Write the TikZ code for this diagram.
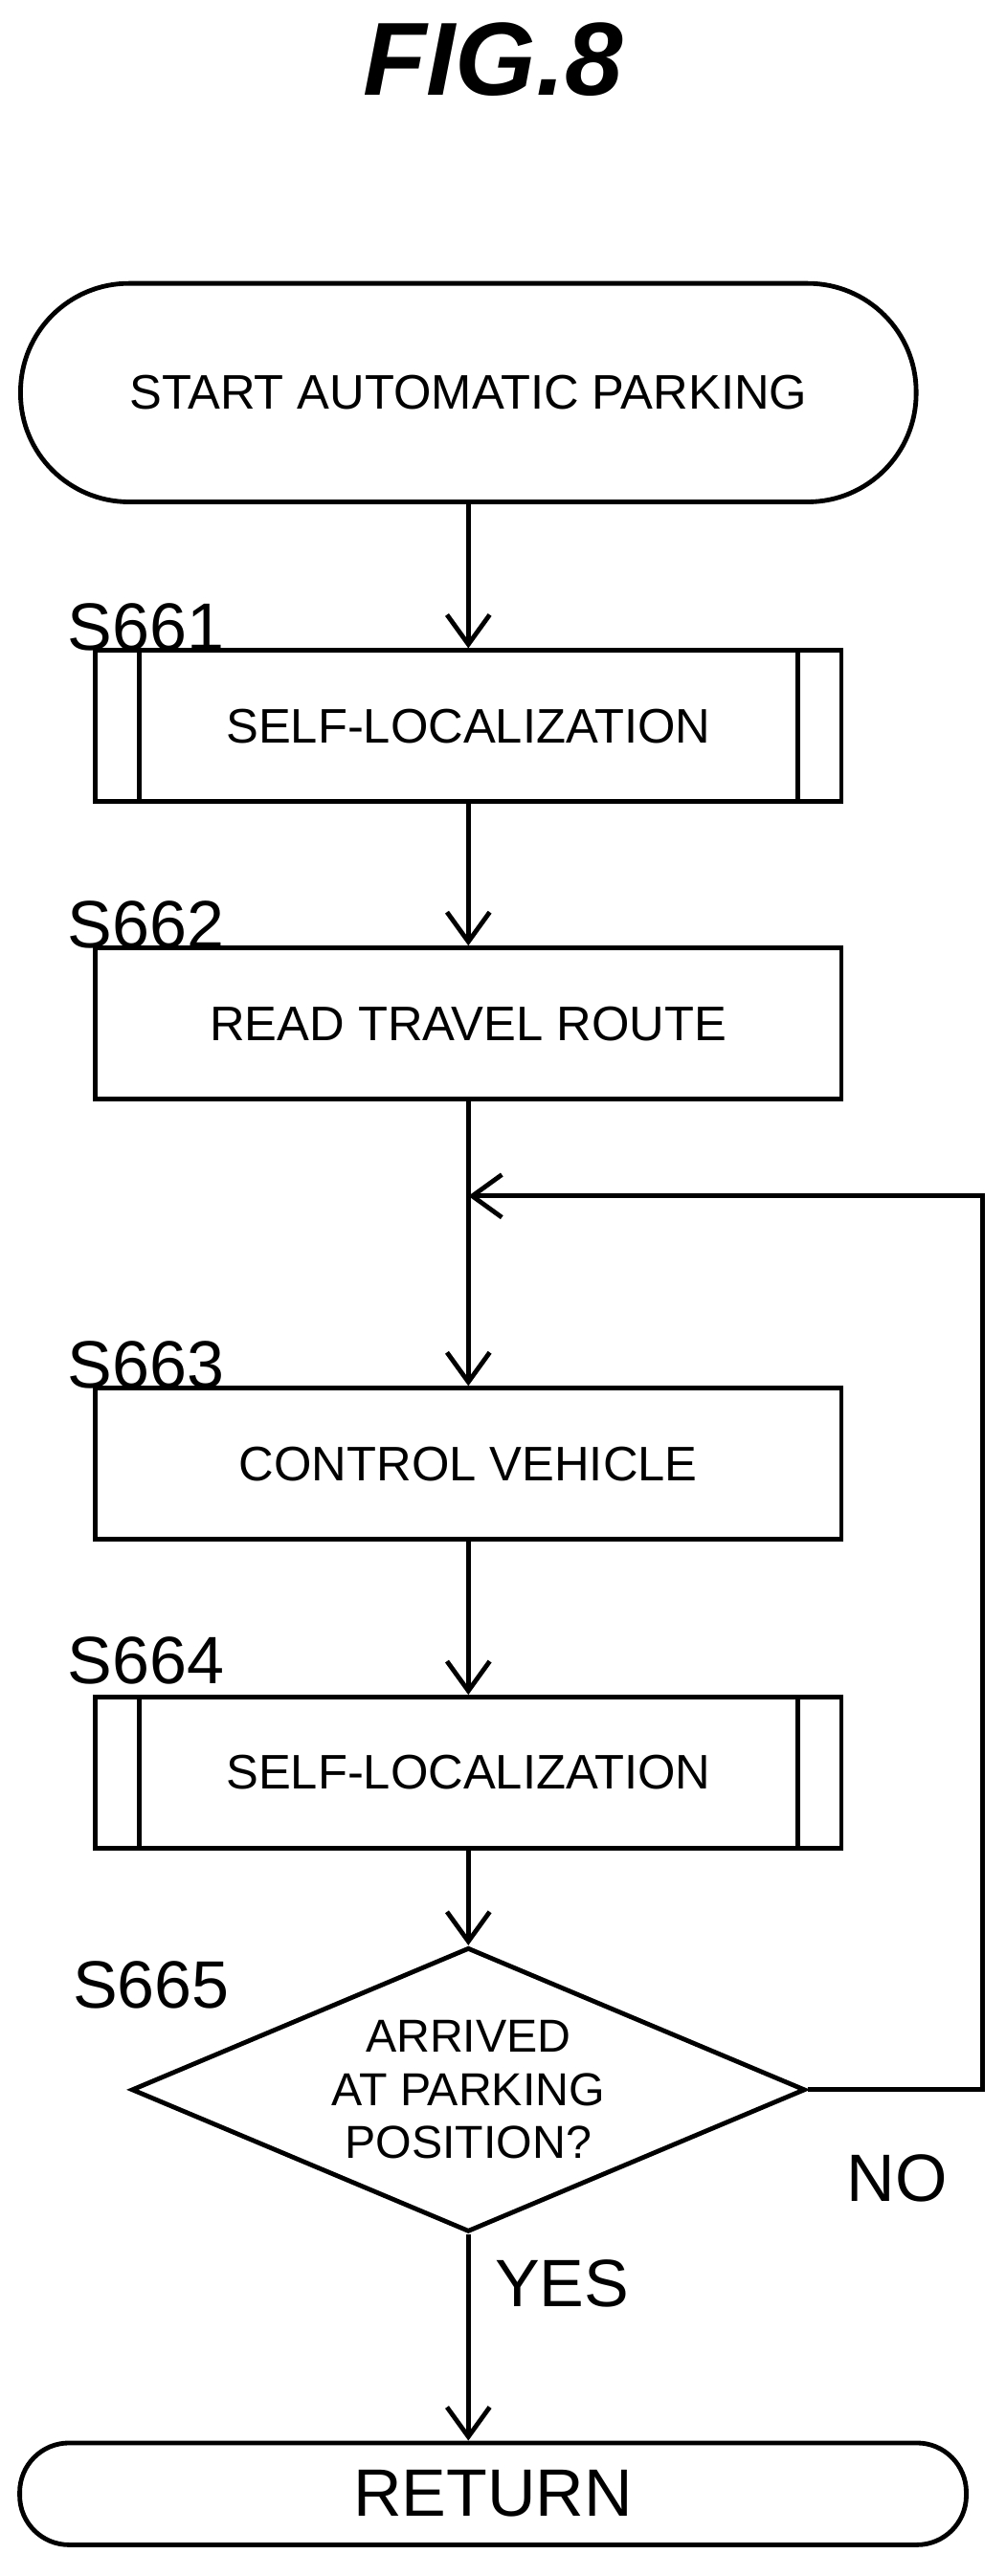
\documentclass[tikz,border=0pt]{standalone}
\usepackage{fontspec}
\setmainfont{Liberation Sans}
\usetikzlibrary{shapes.geometric, arrows.meta, positioning}
\tikzset{line/.style={line width=4pt}}
\tikzset{flow/.style={line, -{Straight Barb[length=0.9cm, width=1.3cm, line width=4pt]}}}
\tikzset{term/.style={line, draw, rounded corners=3.3cm, minimum width=27.25cm, minimum height=6.65cm, font=\fontsize{42}{44}\selectfont}}
\tikzset{pstep/.style={line, draw, minimum width=22.7cm, minimum height=4.6cm, font=\fontsize{42}{44}\selectfont}}
\tikzset{dec/.style={line, draw, diamond, aspect=2.37, inner sep=0pt, minimum width=20.5cm, minimum height=8.65cm, font=\fontsize{40}{46}\selectfont, align=center}}
\tikzset{lbl/.style={font=\fontsize{58}{60}\selectfont}}
\begin{document}
\begin{tikzpicture}
    \useasboundingbox (0,0) rectangle (30.6,-78.4);
    \node [font=\fontsize{90}{90}\selectfont\bfseries\itshape] (title) at (15,-1.8) {FIG.8};

    \node [term] (start) at (14.25,-11.95) {START AUTOMATIC PARKING};
    \node [pstep] (s661) at (14.25,-22.1) {SELF-LOCALIZATION};
    \node [pstep] (s662) at (14.25,-31.15) {READ TRAVEL ROUTE};
    \node [pstep] (s663) at (14.25,-44.55) {CONTROL VEHICLE};
    \node [pstep] (s664) at (14.25,-53.95) {SELF-LOCALIZATION};
    \node [dec]  (s665) at (14.25,-63.6) {ARRIVED\\AT PARKING\\POSITION?};
    \node [term, rounded corners=1.5cm, minimum width=28.8cm, minimum height=3.1cm, lbl] (ret) at (15,-75.9) {RETURN};

    % sub-process side bars
    \foreach \n in {s661, s664} {
        \draw [line] ([xshift=1.4cm]\n.north west) -- ([xshift=1.4cm]\n.south west);
        \draw [line] ([xshift=-1.4cm]\n.north east) -- ([xshift=-1.4cm]\n.south east);
    }

    \node [lbl, anchor=south west] at (s661.north west) [xshift=-0.9cm, yshift=-0.2cm] {S661};
    \node [lbl, anchor=south west] at (s662.north west) [xshift=-0.9cm, yshift=-0.2cm] {S662};
    \node [lbl, anchor=south west] at (s663.north west) [xshift=-0.9cm, yshift=-0.2cm] {S663};
    \node [lbl, anchor=south west] at (s664.north west) [xshift=-0.9cm, yshift=0.2cm] {S664};
    \node [lbl] (l665) at (4.6,-60.4) {S665};
    \node [lbl] (no) at (27.3,-66.3) {NO};
    \node [lbl] (yes) at (17.1,-69.5) {YES};

    \coordinate (join) at (14.25,-36.4);
    \coordinate (turn) at (29.9,-63.6);

    \draw [flow] (start) -- (s661);
    \draw [flow] (s661) -- (s662);
    \draw [flow] (s662) -- (s663);
    \draw [flow] (s663) -- (s664);
    \draw [flow] (s664) -- (s665);
    \draw [flow] (s665.south) -- (ret.north -| s665.south);
    \draw [flow] (s665.east) -- (turn) |- (join);
\end{tikzpicture}
\end{document}
